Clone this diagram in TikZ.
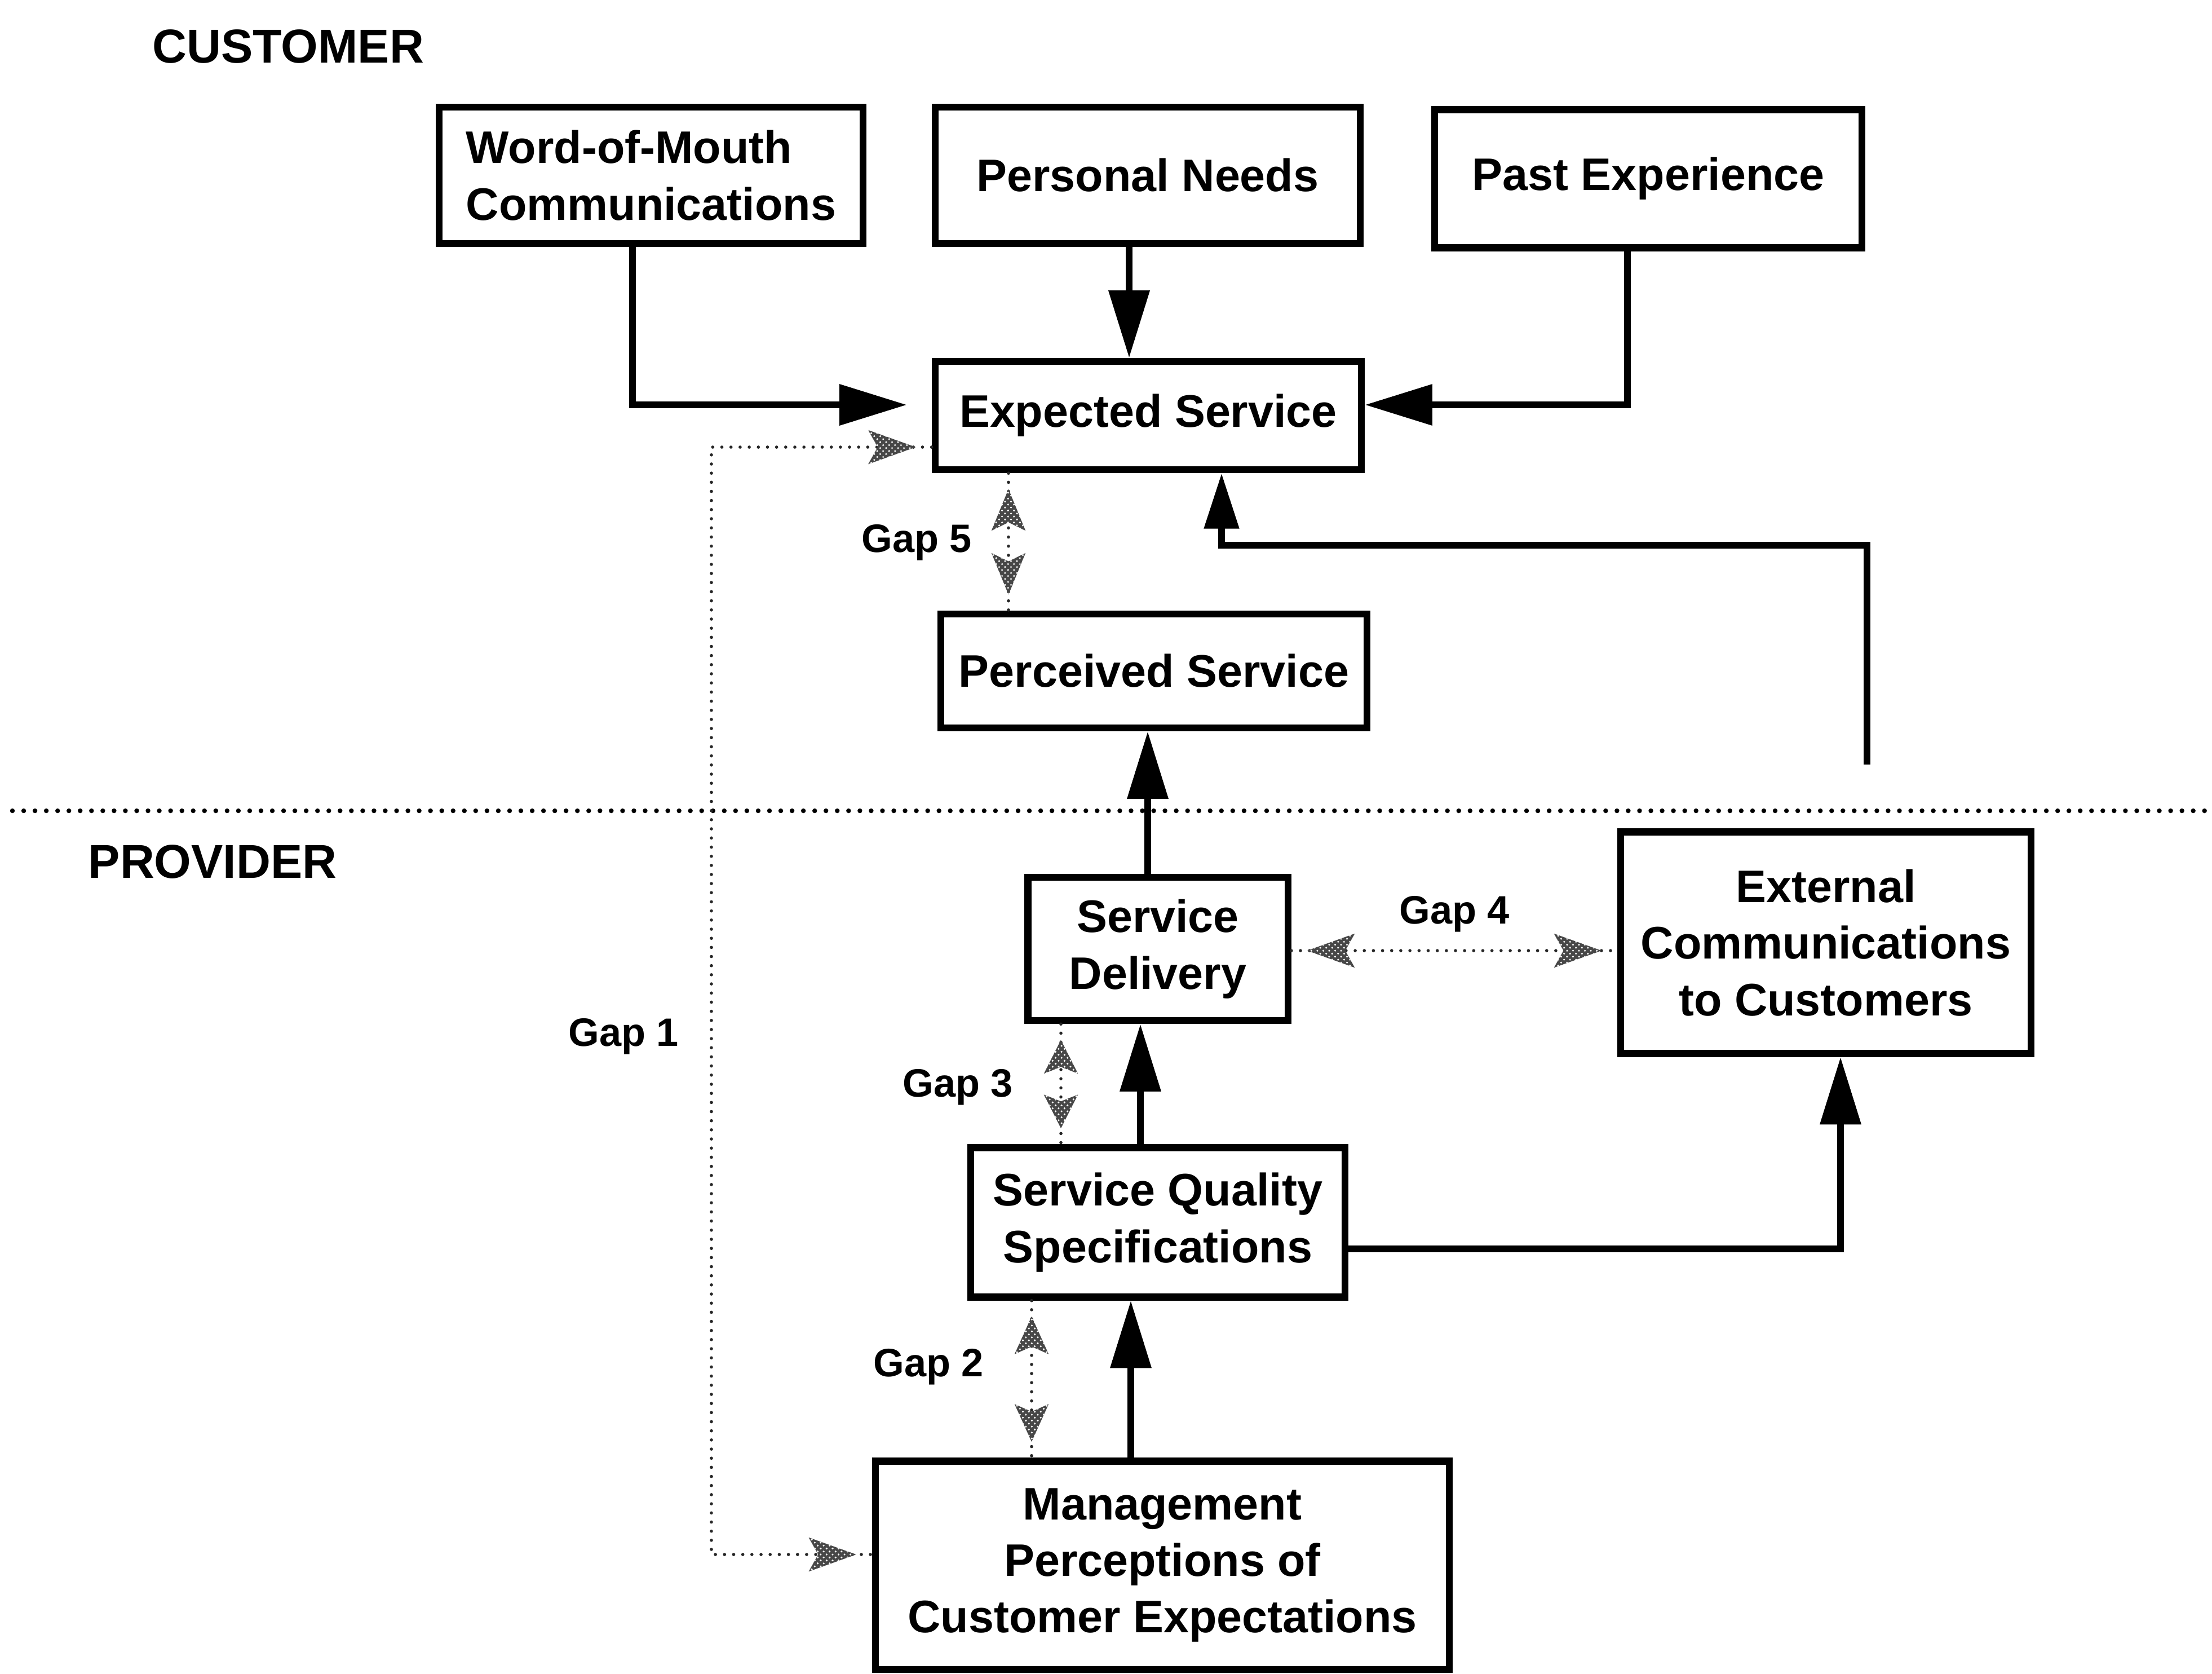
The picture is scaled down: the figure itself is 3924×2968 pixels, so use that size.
\documentclass[tikz,border=0pt]{standalone}
\usepackage{fontspec}
\setmainfont{Liberation Sans}
\usetikzlibrary{arrows.meta,decorations.markings,patterns}

% hatched head of a gap arrow, tip at the origin, pointing along +x (fwd) or -x (back);
% the argument is the head length
\newcommand\gapheadshape[2]{(0,0) -- (#1*#2,8.6pt) -- (#1*#2*0.8,0) -- (#1*#2,-8.6pt) -- cycle}
\newcommand\gapheadfwd[1]{%
  \fill[black!72] \gapheadshape{-1}{#1};
  \fill[pattern=crosshatch dots, pattern color=white] \gapheadshape{-1}{#1};}
\newcommand\gapheadback[1]{%
  \fill[black!72] \gapheadshape{1}{#1};
  \fill[pattern=crosshatch dots, pattern color=white] \gapheadshape{1}{#1};}

\tikzset{
  box/.style={draw, line width=3.5pt, inner sep=0pt, align=center,
    font=\fontsize{23}{28.5}\selectfont\bfseries},
  conn/.style={line width=3.5pt, -{Triangle[length=34pt,width=20pt]}},
  connsmall/.style={line width=3.5pt, -{Triangle[length=28pt,width=17pt]}},
  gapline/.style={draw=black!85, line width=1.6pt, line cap=round,
    dash pattern=on 0pt off 4.6pt,
    postaction={decorate, decoration={markings,
      mark=at position 8pt with {\gapheadback{#1}},
      mark=at position -8pt with {\gapheadfwd{#1}}}}},
  gapline/.default=22pt,
  sideline/.style={line width=2.4pt, line cap=round, dash pattern=on 0pt off 5.7pt},
  sidelbl/.style={anchor=west, inner sep=0pt, font=\fontsize{24}{28}\selectfont\bfseries},
  gaplbl/.style={inner sep=0pt, font=\fontsize{20}{24}\selectfont\bfseries},
}

\begin{document}
\begin{tikzpicture}[x=0.01cm, y=-0.01cm]
\useasboundingbox (0,0) rectangle (3924,2968);

% side headings and the customer / provider divide
\node[sidelbl] (cust) at (270,82) {CUSTOMER};
\node[sidelbl] (prov) at (156,1528) {PROVIDER};
\draw[sideline] (22,1438) -- (3924,1438);

% customer side
\node[box, align=left, minimum width=7.52cm, minimum height=2.42cm] (wom) at (1155,311)
  {Word-of-Mouth\\Communications};
\node[box, minimum width=7.54cm, minimum height=2.42cm] (pn) at (2036,311) {Personal Needs};
\node[box, minimum width=7.58cm, minimum height=2.45cm] (pe) at (2924,317) {Past Experience};
\node[box, minimum width=7.56cm, minimum height=1.92cm] (exp) at (2037,737) {Expected Service};
\node[box, minimum width=7.56cm, minimum height=2.02cm] (perc) at (2047,1190) {Perceived Service};

% provider side
\node[box, minimum width=4.61cm, minimum height=2.54cm] (sd) at (2054,1683) {Service\\Delivery};
\node[box, minimum width=7.27cm, minimum height=3.93cm] (ext) at (3239,1672)
  {External\\Communications\\to Customers};
\node[box, minimum width=6.64cm, minimum height=2.65cm] (sqs) at (2054,2168)
  {Service Quality\\Specifications};
\node[box, minimum width=10.17cm, minimum height=3.69cm] (mp) at (2062,2776)
  {Management\\Perceptions of\\Customer Expectations};

% solid flows
\draw[conn, shorten >=12.5pt] (1122,0 |- wom.south) |- (exp.west |- 0,718);
\draw[conn] (2003,0 |- pn.south) -- (2003,0 |- exp.north);
\draw[conn] (2887,0 |- pe.south) |- (exp.east |- 0,718);
\coordinate (extsrc) at (3312,1356);
\draw[connsmall] (extsrc) -- ++(0,-389) -| (2167,0 |- exp.south);
\draw[conn] (2036,0 |- sd.north) -- (2036,0 |- perc.south);
\draw[conn] (2023,0 |- sqs.north) -- (2023,0 |- sd.south);
\draw[conn] (2006,0 |- mp.north) -- (2006,0 |- sqs.south);
\draw[conn] (sqs.east |- 0,2215) -| (3265,0 |- ext.south);

% gaps
\draw[gapline=21pt] (1789,0 |- exp.south) -- (1789,0 |- perc.north);
\draw[gapline=24pt] (sd.east |- 0,1686) -- (ext.west |- 0,1686);
\draw[gapline=17pt] (1882,0 |- sd.south) -- (1882,0 |- sqs.north);
\draw[gapline=19pt] (1830,0 |- sqs.south) -- (1830,0 |- mp.north);
\draw[gapline=24pt] (exp.west |- 0,793) -- (1262,793) -- (1262,2757) -- (mp.west |- 0,2757);

\node[gaplbl] (g5) at (1626,962) {Gap 5};
\node[gaplbl] (g4) at (2580,1621) {Gap 4};
\node[gaplbl] (g3) at (1699,1928) {Gap 3};
\node[gaplbl] (g2) at (1647,2424) {Gap 2};
\node[gaplbl] (g1) at (1106,1838) {Gap 1};
\end{tikzpicture}
\end{document}
